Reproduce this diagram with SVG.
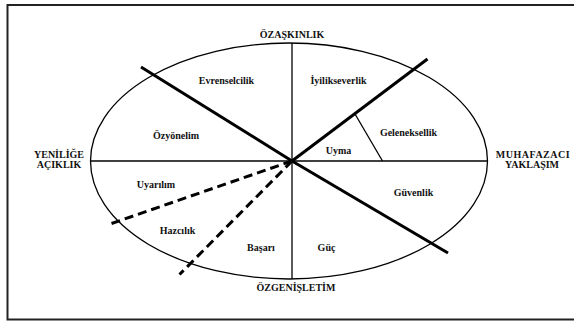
<svg xmlns="http://www.w3.org/2000/svg" width="574" height="321" viewBox="0 0 574 321">
<style>
text{font-family:"Liberation Serif","Times New Roman",serif;font-weight:bold;font-size:10px;fill:#111;text-anchor:middle}
.thin{stroke:#000;stroke-width:1.3;fill:none}
.thick{stroke:#000;stroke-width:3;fill:none}
.dash{stroke:#000;stroke-width:3;fill:none;stroke-dasharray:9 5}
</style>
<rect x="7.5" y="5" width="580" height="314.5" fill="#fff" stroke="#222" stroke-width="2"/>
<g id="connectors">
<ellipse class="thin" cx="289" cy="161" rx="198.5" ry="118"/>
<line class="thin" x1="90.5" y1="161" x2="487.5" y2="161"/>
<line class="thin" x1="292" y1="43" x2="292" y2="279"/>
<line class="thin" x1="355" y1="114" x2="382.5" y2="161"/>
<line class="thick" x1="141" y1="67" x2="292" y2="161"/>
<line class="thick" x1="292" y1="161" x2="427.5" y2="59"/>
<line class="thick" x1="292" y1="161" x2="448" y2="253"/>
<line class="dash" x1="292" y1="161" x2="111.5" y2="223.5"/>
<line class="dash" x1="292" y1="161" x2="179.5" y2="274.5"/>
</g>
<g id="n-ozaskinlik"><text x="292" y="38">ÖZAŞKINLIK</text></g>
<g id="n-ozgenisletim"><text x="296" y="291">ÖZGENİŞLETİM</text></g>
<g id="n-yenilige"><text x="59" y="157.5">YENİLİĞE</text><text x="59" y="168">AÇIKLIK</text></g>
<g id="n-muhafazaci"><text x="533" y="157.5" letter-spacing="0.5">MUHAFAZACI</text><text x="532" y="168">YAKLAŞIM</text></g>
<g id="n-evrenselcilik"><text x="226.5" y="84">Evrenselcilik</text></g>
<g id="n-iyilikseverlik"><text x="338.5" y="84">İyilikseverlik</text></g>
<g id="n-ozyonelim"><text x="176" y="138.5">Özyönelim</text></g>
<g id="n-geleneksellik"><text x="408.5" y="136">Geleneksellik</text></g>
<g id="n-uyma"><text x="338.5" y="154">Uyma</text></g>
<g id="n-uyarilim"><text x="156" y="187.5">Uyarılım</text></g>
<g id="n-guvenlik"><text x="413.5" y="196">Güvenlik</text></g>
<g id="n-hazcilik"><text x="177.5" y="234">Hazcılık</text></g>
<g id="n-basari"><text x="261" y="250.5">Başarı</text></g>
<g id="n-guc"><text x="326.5" y="250.5">Güç</text></g>
</svg>
